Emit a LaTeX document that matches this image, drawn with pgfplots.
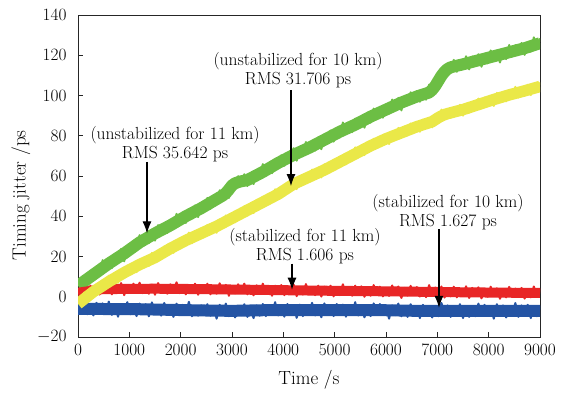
\documentclass[border=0pt]{standalone}
\usepackage{pgfplots}
\usepackage{pgfplotstable}
\pgfplotsset{compat=1.18}
\usetikzlibrary{arrows.meta}
\definecolor{cgreen}{RGB}{108,190,68}
\definecolor{cyellow}{RGB}{234,232,72}
\definecolor{cred}{RGB}{232,38,38}
\definecolor{cblue}{RGB}{36,84,164}
\pgfplotstableread{
x g y r b
0 7.9 -1.5 4.0 -3.6
60 3.9 -4.1 0.0 -8.1
120 9.2 2.1 3.7 -2.1
180 5.2 -2.1 -0.3 -8.7
240 12.9 3.1 5.5 -3.9
300 9.8 -0.3 2.2 -9.3
360 14.8 6.0 5.6 -3.0
420 10.2 3.0 1.1 -7.8
480 18.2 7.7 7.0 -3.3
540 13.6 4.5 2.5 -8.4
600 17.7 10.5 5.0 -2.4
660 14.2 5.9 1.2 -9.0
720 21.2 10.5 6.2 -4.5
780 17.4 7.0 2.2 -9.9
840 23.8 13.1 6.8 -3.6
900 17.6 10.2 0.8 -8.1
960 24.4 15.6 5.5 -2.7
1020 21.3 11.4 2.0 -8.7
1080 27.8 15.9 6.5 -4.2
1140 24.4 12.2 2.8 -9.6
1200 30.6 18.5 7.0 -3.4
1260 25.2 15.5 1.8 -7.9
1320 29.7 19.6 4.8 -3.7
1380 26.7 15.3 1.5 -9.7
1440 33.0 21.8 6.0 -2.8
1500 27.9 18.0 1.0 -8.2
1560 35.6 22.2 6.8 -4.3
1620 31.3 18.8 2.5 -9.4
1680 36.0 25.0 5.8 -3.1
1740 31.7 21.1 1.5 -8.8
1800 38.2 25.0 6.2 -5.2
1860 35.2 21.8 3.0 -10.0
1920 41.2 28.1 7.2 -3.4
1980 35.5 24.2 1.8 -9.1
2040 40.9 29.2 5.5 -4.0
2100 36.7 26.2 1.2 -8.5
2160 42.3 31.9 5.2 -2.5
2220 39.2 26.6 2.0 -9.7
2280 45.4 31.3 6.5 -4.9
2340 39.6 28.3 1.0 -9.4
2400 46.1 33.7 5.5 -4.3
2460 43.1 30.7 2.2 -8.8
2520 49.1 35.7 6.5 -3.7
2580 43.7 31.6 1.2 -9.4
2640 48.8 36.1 4.7 -4.9
2700 45.8 31.8 1.5 -10.9
2760 52.9 38.3 6.7 -4.0
2820 48.1 35.4 1.9 -8.5
2880 53.7 40.4 5.9 -3.4
2940 49.1 36.0 0.5 -9.7
3000 57.3 40.5 5.2 -5.2
3060 54.1 37.0 1.7 -10.3
3120 59.9 42.6 6.2 -4.6
3180 55.7 39.6 2.5 -9.1
3240 60.9 45.0 6.5 -3.7
3300 55.0 40.5 1.2 -10.0
3360 59.7 44.8 4.5 -5.8
3420 56.0 41.6 0.7 -10.6
3480 62.8 47.6 5.7 -4.3
3540 58.5 44.2 1.5 -9.4
3600 65.9 49.5 6.5 -3.6
3660 60.8 45.3 1.5 -9.6
3720 65.3 49.8 4.5 -5.1
3780 61.4 47.9 0.5 -8.4
3840 68.3 53.4 5.5 -2.7
3900 64.7 48.8 1.8 -9.3
3960 70.3 53.8 5.8 -4.5
4020 65.1 50.2 0.8 -9.9
4080 71.0 56.5 5.1 -3.6
4140 68.5 53.8 2.3 -8.1
4200 73.8 58.0 6.1 -4.2
4260 67.6 53.5 0.3 -10.5
4320 73.7 59.6 4.8 -3.9
4380 69.9 55.6 1.1 -9.6
4440 76.9 59.8 6.3 -5.4
4500 71.6 57.5 1.3 -9.0
4560 76.0 63.2 4.3 -3.0
4620 72.6 58.7 0.8 -9.3
4680 79.1 63.1 5.5 -4.8
4740 73.3 59.3 0.1 -10.2
4800 80.4 65.8 5.0 -3.3
4860 77.3 62.8 1.8 -7.8
4920 82.6 66.4 5.5 -4.5
4980 77.1 62.9 0.2 -9.6
5040 83.3 68.7 4.8 -3.6
5100 79.3 65.5 0.8 -8.4
5160 86.6 70.0 6.2 -3.9
5220 81.6 65.8 1.5 -9.9
5280 85.6 70.6 4.2 -5.1
5340 81.8 68.4 0.5 -8.7
5400 88.5 74.2 5.5 -2.7
5460 83.8 69.6 1.0 -9.3
5520 89.6 74.6 5.2 -4.2
5580 84.0 70.4 0.0 -10.2
5640 89.5 75.0 4.0 -5.7
5700 86.5 72.5 0.5 -9.6
5760 93.5 78.5 5.8 -3.3
5820 88.8 75.2 1.2 -8.1
5880 94.0 79.6 5.0 -3.6
5940 89.0 75.8 0.2 -9.0
6000 94.8 80.0 4.1 -5.2
6060 91.0 75.9 0.4 -10.9
6120 98.0 81.9 5.6 -4.3
6180 93.6 78.5 1.4 -9.1
6240 98.8 83.9 5.1 -3.4
6300 92.6 79.3 -0.6 -9.7
6360 99.2 83.1 4.4 -5.8
6420 95.3 80.2 0.6 -10.0
6480 101.6 86.1 5.4 -3.7
6540 97.1 82.4 1.1 -8.8
6600 102.2 86.3 4.8 -4.9
6660 96.9 82.0 0.1 -10.6
6720 102.0 88.0 3.8 -4.0
6780 97.9 84.0 -0.2 -9.4
6840 105.4 87.7 5.8 -5.5
6900 100.4 84.2 0.8 -10.3
6960 107.4 89.5 4.6 -5.2
7020 105.3 87.0 0.4 -9.7
7080 113.0 93.0 5.1 -3.1
7140 108.2 89.5 -0.4 -8.2
7200 114.4 93.2 3.2 -4.3
7260 111.6 88.9 0.2 -10.0
7320 117.7 93.6 5.0 -4.9
7380 111.8 90.7 -0.3 -8.8
7440 117.2 95.4 4.0 -3.7
7500 113.7 90.0 0.7 -10.6
7560 119.5 95.5 5.2 -4.6
7620 113.0 91.5 -0.6 -10.0
7680 119.4 95.3 4.4 -6.1
7740 115.6 92.8 1.0 -9.7
7800 120.5 98.5 4.7 -3.4
7860 114.3 94.8 -0.8 -8.5
7920 120.1 99.0 3.7 -4.0
7980 116.0 95.0 0.0 -9.4
8040 122.4 99.0 5.0 -5.2
8100 117.4 94.8 0.4 -10.9
8160 122.3 101.3 4.2 -3.7
8220 116.4 97.2 -1.0 -9.1
8280 122.2 101.6 3.4 -4.3
8340 118.1 97.1 -0.3 -10.3
8400 125.1 101.3 4.9 -5.8
8460 119.5 99.2 -0.1 -8.8
8520 125.0 104.3 4.1 -3.1
8580 120.9 99.0 0.4 -10.0
8640 126.1 104.1 4.4 -4.3
8700 120.2 101.3 -0.9 -8.2
8760 126.1 105.3 3.7 -4.0
8820 121.8 100.2 -0.3 -10.6
8880 128.9 104.8 5.1 -5.5
8940 123.4 101.9 0.1 -9.7
9000 128.4 106.5 3.9 -4.6
}\datatable
% band centres
\pgfplotstableread{
x c
0 5.5
300 11
600 16.5
900 21.5
1200 27
1500 31.5
1800 35.5
2100 40
2400 44
2700 48.5
2820 50.3
2880 51.5
2940 53.3
3000 55.3
3060 56.4
3150 57.2
3300 58
3600 62
3900 66.5
4200 70.5
4500 74
4800 78
5100 82
5400 85.5
5700 89.5
6000 93
6300 96.5
6600 99.5
6840 101.5
6900 102.8
6960 104.8
7020 107.3
7080 109.8
7140 111.8
7200 113.2
7260 114
7380 114.8
7500 115.5
7800 117.5
8100 119.5
8400 121.5
8700 123.5
9000 126
}\greencore
\pgfplotstableread{
x c
0 -3.5
300 2.5
600 7.5
900 12
1200 16
1500 19.5
1800 24
2100 28
2400 31.5
2700 35
3000 39
3300 43
3600 47
3900 51
4200 56
4500 59.5
4800 63
5100 67
5400 71
5700 75
6000 78.5
6300 81.5
6600 84.5
6900 87
6960 88
7020 89
7080 89.8
7140 90.5
7200 91
7500 93
7800 95.5
8100 98
8400 100.3
8700 102.3
9000 104.5
}\yellowcore
\pgfplotstableread{
x c
0 2
480 3.8
1500 4
2400 3.8
3600 3.4
4800 3.0
6000 2.7
7200 2.3
8400 2.0
9000 1.9
}\redcore
\pgfplotstableread{
x c
0 -6
1200 -6.2
2400 -6.8
3000 -7
3600 -6.7
6000 -6.7
6600 -7
9000 -7
}\bluecore
\begin{document}
\begin{tikzpicture}
\begin{axis}[
  scale only axis, width=462pt, height=322pt,
  xmin=0, xmax=9000, ymin=-20, ymax=140,
  xtick={0,1000,...,9000}, ytick={-20,0,...,140},
  tick align=inside, xtick pos=bottom, ytick pos=left,
  major tick length=5pt,
  scaled x ticks=false,
  x tick label style={/pgf/number format/1000 sep={}},
  tick label style={font=\fontsize{19}{19}\selectfont},
  xticklabel style={yshift=-4pt},
  yticklabel style={xshift=-8pt},
  label style={font=\fontsize{19}{20}\selectfont},
  xlabel={Time /s}, ylabel={Timing jitter /ps},
  xlabel style={yshift=-8pt},
  ylabel style={at={(ticklabel cs:0.446)}, xshift=-2pt},
  axis line style={line width=0.9pt, black!85},
  every tick/.style={line width=0.8pt, black!85},
  clip=true,
]
\addplot[cgreen, line width=12pt, line join=round] table[x=x, y=c] {\greencore};
\addplot[cgreen, line width=2pt, line join=round] table[x=x, y=g] {\datatable};
\addplot[cblue, line width=12pt, line join=round] table[x=x, y=c] {\bluecore};
\addplot[cblue, line width=2pt, line join=round] table[x=x, y=b] {\datatable};
\addplot[cred, line width=10pt, line join=round] table[x=x, y=c] {\redcore};
\addplot[cred, line width=2pt, line join=round] table[x=x, y=r] {\datatable};
\addplot[cyellow, line width=11.5pt, line join=round] table[x=x, y=c] {\yellowcore};
\addplot[cyellow, line width=2pt, line join=round] table[x=x, y=y] {\datatable};

\begin{scope}[font=\fontsize{17.5}{19}\selectfont]
\node[align=center] at (axis cs:1890,76) {(unstabilized for 11 km)\\RMS 35.642 ps};
\node[align=center] at (axis cs:4286,112.7) {(unstabilized for 10 km)\\RMS 31.706 ps};
\node[align=center] at (axis cs:4422,25.3) {(stabilized for 11 km)\\RMS 1.606 ps};
\node[align=center] at (axis cs:7208,42) {(stabilized for 10 km)\\RMS 1.627 ps};
\end{scope}
\draw[line width=1.1pt, -{Latex[length=12pt,width=9pt]}] (axis cs:1344,67) -- (axis cs:1344,31.5);
\draw[line width=1.1pt, -{Latex[length=12pt,width=9pt]}] (axis cs:4149,102.5) -- (axis cs:4149,55);
\draw[line width=1.1pt, -{Latex[length=12pt,width=9pt]}] (axis cs:4169,16.5) -- (axis cs:4169,3.5);
\draw[line width=1.1pt, -{Latex[length=12pt,width=9pt]}] (axis cs:7032,33.5) -- (axis cs:7032,-5.5);
\end{axis}
\pgfresetboundingbox
\path ([shift={(-78pt,-55pt)}]current axis.south west) rectangle ([shift={(22pt,15pt)}]current axis.north east);
\end{tikzpicture}
\end{document}
